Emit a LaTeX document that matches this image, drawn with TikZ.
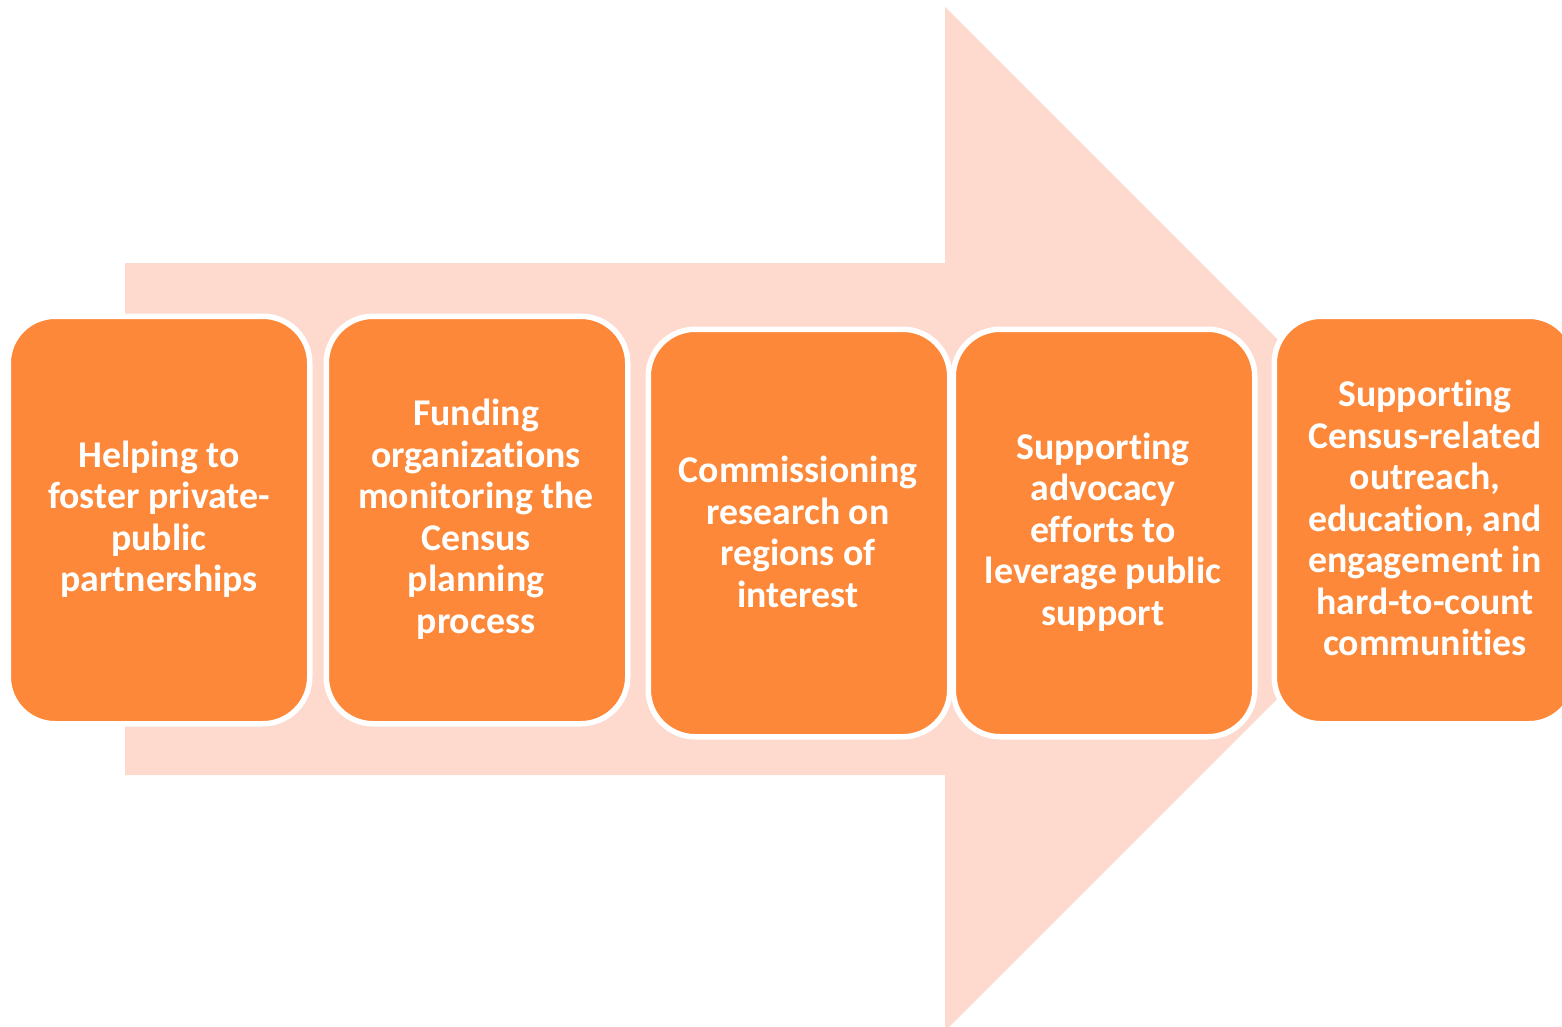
\documentclass[tikz,border=0pt]{standalone}
\usepackage{fontspec}
\setmainfont{Carlito}[Ligatures=NoCommon]
\definecolor{boxorange}{RGB}{253,136,57}
\definecolor{arrowpink}{RGB}{253,217,206}
\tikzset{
  stagebox/.style={rectangle, rounded corners=47pt, fill=boxorange, draw=white,
    line width=5.5pt, minimum width=301.5pt, minimum height=407.5pt, inner sep=0pt,
    outer sep=0pt},
  stagetext/.style={text=white, font=\fontsize{37.8}{41.5}\selectfont\bfseries,
    align=center, inner sep=0pt}
}
\begin{document}
\begin{tikzpicture}[x=1pt,y=-1pt]
\useasboundingbox (0,0) rectangle (1562,1026);
\begin{scope}
\clip (0,0) rectangle (1562,1026);
\fill[arrowpink] (125,263) -- (945,263) -- (945,7) -- (1457,519) -- (945,1031) -- (945,775) -- (125,775) -- cycle;
\node[stagebox] (b1) at (159,520) {};
\node[stagebox] (b2) at (477,520) {};
\node[stagebox] (b3) at (799,533) {};
\node[stagebox] (b4) at (1104,533) {};
\node[stagebox] (b5) at (1425,520) {};
\end{scope}
\node[stagetext] (t1) at (159,519) {Helping to\\foster private-\\public\\partnerships};
\node[stagetext] (t2) at (476,519) {Funding\\organizations\\monitoring the\\Census\\planning\\process};
\node[stagetext] (t3) at (798,532) {Commissioning\\research on\\regions of\\interest};
\node[stagetext] (t4) at (1103,532) {Supporting\\advocacy\\efforts to\\leverage public\\support};
\node[stagetext] (t5) at (1425,518) {Supporting\\Census-related\\outreach,\\education, and\\engagement in\\hard-to-count\\communities};
\end{tikzpicture}
\end{document}
